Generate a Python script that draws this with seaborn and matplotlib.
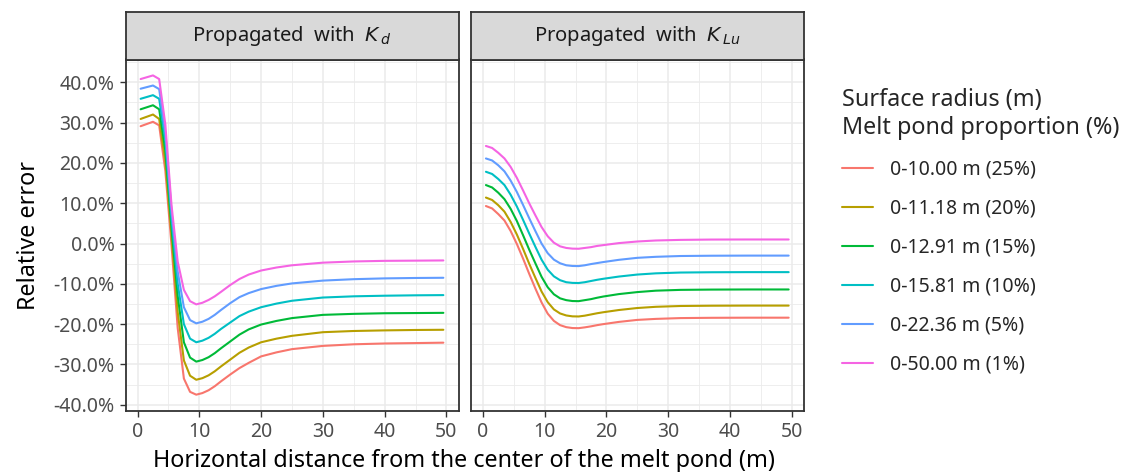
import numpy as np
import pandas as pd
import matplotlib
matplotlib.use("Agg")
import matplotlib.pyplot as plt
import seaborn as sns
from matplotlib.ticker import MultipleLocator, FuncFormatter

sns.set_theme(style="white")
plt.rcParams['font.family'] = ['Noto Sans', 'DejaVu Sans']
plt.rcParams['mathtext.fontset'] = 'dejavusans'

series_labels = ["0-10.00 m (25%)", "0-11.18 m (20%)", "0-12.91 m (15%)",
                 "0-15.81 m (10%)", "0-22.36 m (5%)", "0-50.00 m (1%)"]
palette = ["#F8766D", "#B79F00", "#00BA38", "#00BFC4", "#619CFF", "#F564E3"]
facet_titles = [r"Propagated  with  $K_{\,d}$", r"Propagated  with  $K_{\,Lu}$"]

# Panel 1: propagated with K_d (relative error, %)
x_kd = [0.5, 2.5, 3.5, 4.5, 5.5, 6.5, 7.5, 8.5, 9.5, 10.5, 11.5, 12.5, 13.5,
        15, 16.5, 18, 20, 22.5, 25, 30, 35, 40, 45, 49.5]
kd_r25 = [29.1, 30.2, 29.3, 18.0, -0.5, -21.0, -33.5, -36.8, -37.5, -37.1, -36.4, -35.4, -34.2,
          -32.5, -30.9, -29.6, -28.0, -27.0, -26.2, -25.4, -25.0, -24.8, -24.7, -24.6]
kd_r20 = [30.9, 32.0, 30.9, 20.5, 2.0, -17.0, -29.0, -32.8, -33.8, -33.4, -32.7, -31.7, -30.5,
          -28.8, -27.1, -25.8, -24.5, -23.6, -22.9, -22.0, -21.7, -21.55, -21.45, -21.4]
kd_r15 = [33.3, 34.3, 33.3, 23.0, 4.0, -13.0, -24.5, -28.3, -29.3, -28.9, -28.2, -27.2, -26.0,
          -24.3, -22.6, -21.3, -20.1, -19.2, -18.5, -17.7, -17.45, -17.3, -17.25, -17.2]
kd_r10 = [35.9, 36.8, 35.9, 25.5, 6.0, -10.0, -20.0, -23.6, -24.5, -24.1, -23.4, -22.4, -21.2,
          -19.6, -18.0, -16.9, -15.8, -14.9, -14.2, -13.4, -13.1, -12.95, -12.85, -12.8]
kd_r05 = [38.4, 39.2, 38.3, 27.5, 8.0, -7.0, -15.8, -19.0, -19.8, -19.4, -18.7, -17.7, -16.5,
          -14.8, -13.3, -12.3, -11.3, -10.5, -9.9, -9.2, -8.85, -8.65, -8.55, -8.5]
kd_r01 = [40.8, 41.7, 40.8, 29.5, 9.5, -4.5, -11.5, -14.3, -15.1, -14.7, -14.0, -13.1, -12.0,
          -10.3, -8.8, -7.7, -6.7, -5.95, -5.4, -4.75, -4.45, -4.3, -4.25, -4.2]

# Panel 2: propagated with K_Lu (relative error, %)
x_klu = [0.5, 1.5, 2.5, 3.5, 4.5, 5.5, 6.5, 7.5, 8.5, 9.5, 10.5, 11.5, 12.5, 13.5, 14.5,
         15.5, 16.5, 17.5, 18.5, 19.5, 22, 25, 28, 32, 37, 43, 49.5]
klu_r25 = [9.3, 8.7, 7.3, 5.7, 3.1, -0.1, -3.7, -7.5, -11.15, -14.6, -17.4, -19.2, -20.25,
           -20.75, -20.97, -21.0, -20.8, -20.55, -20.25, -20.0, -19.45, -18.95, -18.7, -18.5,
           -18.43, -18.4, -18.4]
klu_r20 = [11.4, 10.8, 9.5, 7.9, 5.35, 2.25, -1.3, -5.0, -8.5, -11.9, -14.55, -16.35, -17.35,
           -17.85, -18.07, -18.1, -17.9, -17.6, -17.3, -17.05, -16.5, -16.0, -15.7, -15.5,
           -15.43, -15.4, -15.4]
klu_r15 = [14.5, 13.9, 12.6, 11.0, 8.6, 5.6, 2.1, -1.5, -4.9, -8.25, -10.85, -12.6, -13.6,
           -14.05, -14.27, -14.3, -14.05, -13.8, -13.45, -13.15, -12.55, -12.05, -11.7, -11.5,
           -11.43, -11.4, -11.4]
klu_r10 = [17.8, 17.25, 16.0, 14.5, 12.1, 9.2, 5.9, 2.5, -0.8, -4.0, -6.5, -8.15, -9.1,
           -9.6, -9.77, -9.8, -9.6, -9.3, -9.0, -8.75, -8.2, -7.7, -7.4, -7.2,
           -7.13, -7.1, -7.1]
klu_r05 = [21.1, 20.6, 19.4, 17.9, 15.6, 12.8, 9.6, 6.3, 3.1, 0.0, -2.4, -4.0, -4.9,
           -5.4, -5.57, -5.6, -5.4, -5.1, -4.85, -4.6, -4.05, -3.55, -3.3, -3.1,
           -3.03, -3.0, -3.0]
klu_r01 = [24.2, 23.7, 22.5, 21.1, 19.0, 16.3, 13.2, 10.0, 7.0, 4.1, 1.8, 0.2, -0.7,
           -1.1, -1.27, -1.3, -1.1, -0.9, -0.6, -0.4, 0.1, 0.5, 0.75, 0.9,
           0.98, 1.0, 1.0]

x_ticks = [0, 10, 20, 30, 40, 50]
y_ticks = [-40, -30, -20, -10, 0, 10, 20, 30, 40]


def long_frame(x, cols):
    rows = []
    for lab, vals in zip(series_labels, cols):
        for xv, yv in zip(x, vals):
            rows.append((xv, yv, lab))
    return pd.DataFrame(rows, columns=["dist", "err", "group"])


df_kd = long_frame(x_kd, [kd_r25, kd_r20, kd_r15, kd_r10, kd_r05, kd_r01])
df_klu = long_frame(x_klu, [klu_r25, klu_r20, klu_r15, klu_r10, klu_r05, klu_r01])

W, H = 1123, 472
fig = plt.figure(figsize=(W / 100, H / 100), dpi=100)

def fx(px):
    return px / W

def fy(py):
    return (H - py) / H

panel_top, panel_bot = 59.5, 411.0
strip_top = 11.7
lefts = [125.5, 470.8]
pw = 333.0

border_col = "#333333"
grid_col = "#EBEBEB"
tick_col = "#4D4D4D"

axes = []
for i, (df, title) in enumerate([(df_kd, facet_titles[0]), (df_klu, facet_titles[1])]):
    ax = fig.add_axes([fx(lefts[i]), fy(panel_bot), pw / W, (panel_bot - panel_top) / H])
    sns.lineplot(data=df, x="dist", y="err", hue="group", hue_order=series_labels,
                 palette=palette, ax=ax, linewidth=1.5, legend=(i == 0), sort=False,
                 estimator=None)
    ax.set_xlim(-1.95, 51.95)
    ax.set_ylim(-41.55, 45.65)
    ax.xaxis.set_minor_locator(MultipleLocator(5))
    ax.yaxis.set_minor_locator(MultipleLocator(5))
    ax.set_xticks(x_ticks)
    ax.set_yticks(y_ticks)
    ax.grid(True, which="major", color=grid_col, linewidth=1.1)
    ax.grid(True, which="minor", color=grid_col, linewidth=0.6)
    ax.set_axisbelow(True)
    for s in ax.spines.values():
        s.set_color(border_col)
        s.set_linewidth(1.3)
    ax.tick_params(axis="both", which="major", length=4.5, width=1.0, color=border_col,
                   labelsize=14, labelcolor=tick_col, direction="out", pad=3.5,
                   bottom=True, left=True)
    ax.tick_params(axis="both", which="minor", length=0)
    ax.set_xlabel("")
    ax.set_ylabel("")
    if i == 0:
        ax.yaxis.set_major_formatter(FuncFormatter(lambda v, p: f"{v:.1f}%"))
    else:
        ax.tick_params(axis="y", which="major", labelleft=False, left=False)
    axes.append(ax)

    sax = fig.add_axes([fx(lefts[i]), fy(panel_top), pw / W, (panel_top - strip_top) / H])
    sax.set_facecolor("#D9D9D9")
    sax.set_xticks([])
    sax.set_yticks([])
    for s in sax.spines.values():
        s.set_color(border_col)
        s.set_linewidth(1.3)
    sax.text(0.5, 0.5, title, ha="center", va="center", fontsize=14.5, color="#1A1A1A",
             transform=sax.transAxes)

handles, labels = axes[0].get_legend_handles_labels()
axes[0].get_legend().remove()

fig.text(fx(464), fy(461), "Horizontal distance from the center of the melt pond (m)",
         ha="center", va="center", fontsize=16.8, color="black")
fig.text(fx(29), fy(235), "Relative error", ha="center", va="center", rotation=90,
         fontsize=16.8, color="black")

leg = fig.legend(handles, labels, loc="upper left", bbox_to_anchor=(fx(834), fy(80)),
                 title="Surface radius (m)\nMelt pond proportion (%)", frameon=False,
                 fontsize=14, title_fontsize=16.8, handlelength=1.6, labelspacing=0.98,
                 handletextpad=0.88, borderaxespad=0)
leg._legend_box.align = "left"
leg.get_title().set_linespacing(1.25)
for h in leg.legend_handles:
    h.set_linewidth(1.5)

fig.savefig("out.png", dpi=100)
